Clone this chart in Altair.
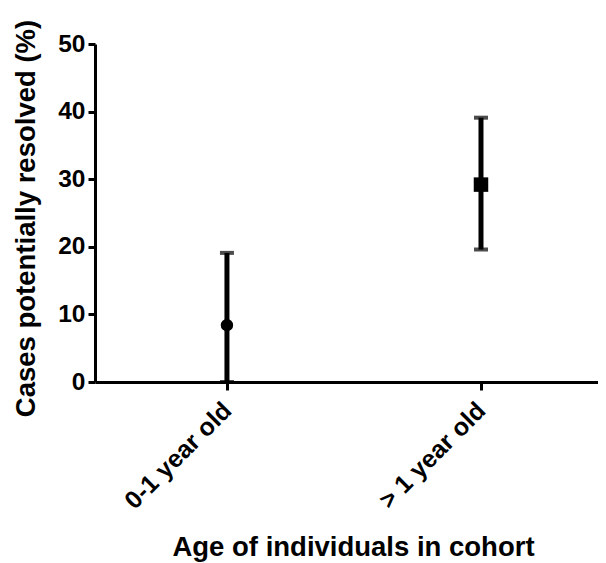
import altair as alt
import pandas as pd

categories = ["0-1 year old", "> 1 year old"]
means = [8.4, 29.2]
lower = [0.0, 19.6]
upper = [19.1, 39.1]
y_ticks = [0, 10, 20, 30, 40, 50]

df = pd.DataFrame({"group": categories, "mean": means, "lo": lower, "hi": upper})

FONT = "Liberation Sans"

x_enc = alt.X(
    "group:N",
    sort=categories,
    scale=alt.Scale(type="point", padding=0.49, align=0.53),
    axis=alt.Axis(
        title="Age of individuals in cohort",
        labelAngle=-45,
        labelAlign="right",
        labelBaseline="middle",
        labelPadding=16,
        labelFont=FONT,
        labelFontSize=25,
        labelFontWeight="bold",
        labelColor="black",
        tickSize=8,
        tickWidth=3,
        tickColor="black",
        domainWidth=3,
        domainColor="black",
        titleFont=FONT,
        titleFontSize=27.5,
        titleFontWeight="bold",
        titleColor="black",
        titleX=258,
        titleY=173,
        titleAlign="center",
        titleBaseline="alphabetic",
        grid=False,
    ),
)

y_scale = alt.Scale(domain=[0, 50], nice=False)
y_axis = alt.Axis(
    title="Cases potentially resolved (%)",
    values=y_ticks,
    labelFont=FONT,
    labelFontSize=24.5,
    labelFontWeight="bold",
    labelColor="black",
    labelPadding=3,
    tickSize=7,
    tickWidth=3,
    tickColor="black",
    domainWidth=3,
    domainColor="black",
    titleFont=FONT,
    titleFontSize=27.5,
    titleFontWeight="bold",
    titleColor="black",
    titleAngle=270,
    titleX=-61,
    titleY=174,
    titleAlign="center",
    titleBaseline="alphabetic",
    grid=False,
)

base = alt.Chart(df)

bars = base.mark_rule(color="black", strokeWidth=5).encode(
    x=x_enc,
    y=alt.Y("lo:Q", scale=y_scale, axis=y_axis),
    y2="hi:Q",
)

caps_hi = base.mark_tick(color="black", size=14, thickness=4).encode(
    x=alt.X("group:N", sort=categories), y=alt.Y("hi:Q")
)
caps_lo = base.mark_tick(color="black", size=14, thickness=4).encode(
    x=alt.X("group:N", sort=categories), y=alt.Y("lo:Q")
)

points = base.mark_point(filled=True, color="black", opacity=1).encode(
    x=alt.X("group:N", sort=categories),
    y=alt.Y("mean:Q"),
    shape=alt.Shape("group:N", sort=categories,
                    scale=alt.Scale(range=["circle", "square"]), legend=None),
    size=alt.Size("group:N", sort=categories,
                  scale=alt.Scale(range=[154, 210]), legend=None),
)

chart = (
    alt.layer(bars, caps_lo, caps_hi, points)
    .properties(
        width=503,
        height=338,
        autosize=alt.AutoSizeParams(type="none"),
        padding={"left": 87, "top": 36, "right": 0, "bottom": 180},
        background="white",
    )
    .configure_view(stroke=None)
)

chart.save("out.html", embed_options={"renderer": "svg", "actions": False})
